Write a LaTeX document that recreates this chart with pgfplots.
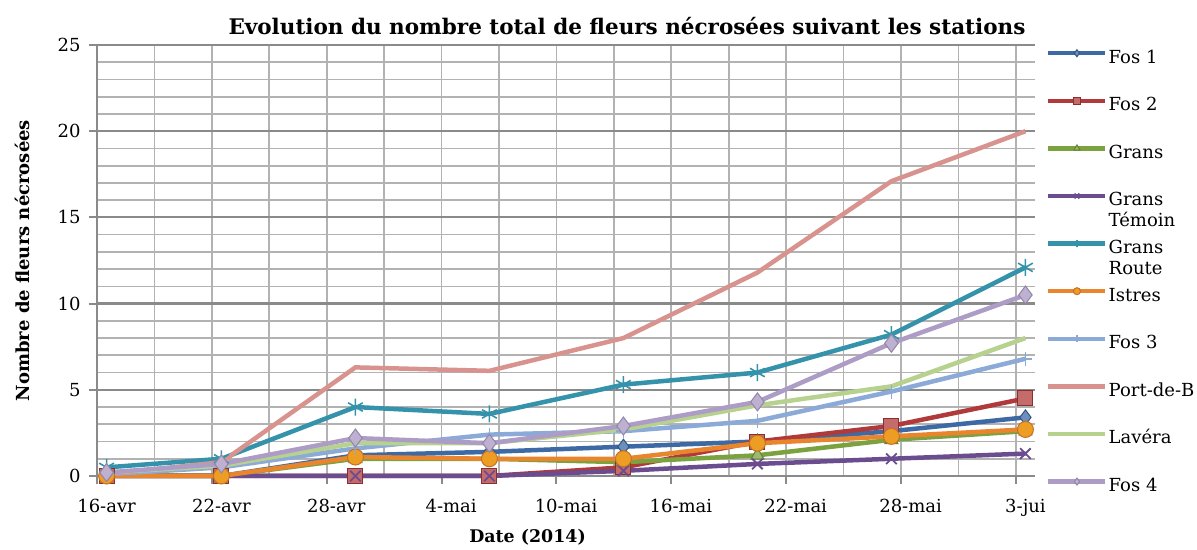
\documentclass[border=0pt]{standalone}
\usepackage{pgfplots}
\pgfplotsset{compat=1.18}
\usepackage{fontspec}
\setmainfont{DejaVu Serif}

\definecolor{cFosA}{HTML}{3D6AA5}
\definecolor{cFosB}{HTML}{B0393A}
\definecolor{cGrans}{HTML}{7BA23F}
\definecolor{cGransT}{HTML}{6A4C8F}
\definecolor{cGransR}{HTML}{3592AB}
\definecolor{cIstres}{HTML}{E8852D}
\definecolor{cFosC}{HTML}{8CAAD8}
\definecolor{cPort}{HTML}{D8938F}
\definecolor{cLavera}{HTML}{B7D28E}
\definecolor{cFosD}{HTML}{AC9CC6}
\definecolor{gridc}{HTML}{B2B2B2}
\definecolor{gridm}{HTML}{8A8A8A}

\begin{document}
\begin{tikzpicture}
\begin{axis}[
    scale only axis, width=938pt, height=431pt,
    xmin=0, xmax=49, ymin=0, ymax=25,
    clip=false,
    axis lines=left, axis line style={-, draw=gridm, line width=2pt},
    xtick={0,6,...,48},
    xticklabels={16-avr,22-avr,28-avr,4-mai,10-mai,16-mai,22-mai,28-mai,3-jui},
    minor x tick num=1,
    ytick={0,5,...,25}, minor y tick num=4,
    grid=both,
    grid style={draw=gridc, line width=1.7pt},
    extra y ticks={5,10,15,20,25}, extra y tick labels={},
    extra y tick style={major grid style={draw=gridm, line width=2.2pt}},
    tick align=outside, major tick length=8pt, minor tick length=0pt,
    tick style={draw=gridm, line width=2pt},
    /pgf/number format/assume math mode=true,
    xticklabel style={font=\fontsize{18}{20}\selectfont, xshift=9.6pt, yshift=-12pt},
    yticklabel style={font=\fontsize{18}{20}\selectfont, xshift=-5pt},
    title={Evolution du nombre total de fleurs nécrosées suivant les stations},
    title style={font=\fontsize{21.5}{24}\selectfont\bfseries,
        at={(axis description cs:0.565,1)}, anchor=base, yshift=4pt},
    xlabel={Date (2014)},
    xlabel style={font=\fontsize{17.4}{20}\selectfont\bfseries,
        at={(axis description cs:0.459,0)}, anchor=base, yshift=-67pt},
    ylabel={Nombre de fleurs nécrosées},
    ylabel style={font=\fontsize{18}{21}\selectfont\bfseries,
        at={(axis description cs:-0.08,0.5)}, anchor=center},
    legend style={at={(1,1)}, anchor=north west, xshift=11pt, yshift=-4pt,
        draw=none, fill=none, inner sep=0pt, row sep=31.6pt, column sep=1pt,
        font=\fontsize{18}{21}\selectfont,
        nodes={inner sep=0pt, text height=14pt, text depth=2pt}},
    legend cell align=left,
    legend image code/.code={
        \draw[mark repeat=2, mark phase=2, #1, mark size=3.5pt, yshift=4pt]
            plot coordinates {(0pt,0pt) (28.5pt,0pt) (57pt,0pt)};},
    every axis plot/.append style={line width=4.5pt},
]
% Fos 1
\addplot[cFosA, mark=diamond*, mark size=7.5pt,
    mark options={fill=cFosA!75!white, draw=cFosA!80!black, line width=1pt}] coordinates {
    (0.5,0)(6.5,0)(13.5,1.2)(20.5,1.4)(27.5,1.7)(34.5,2.0)(41.5,2.6)(48.5,3.4)};
\addlegendentry{Fos 1}
% Fos 2
\addplot[cFosB, mark=square*, mark size=7.5pt,
    mark options={fill=cFosB!75!white, draw=cFosB!80!black, line width=1pt}] coordinates {
    (0.5,0)(6.5,0)(13.5,0)(20.5,0)(27.5,0.5)(34.5,2.0)(41.5,2.9)(48.5,4.5)};
\addlegendentry{Fos 2}
% Grans
\addplot[cGrans, mark=triangle*, mark size=7.5pt,
    mark options={fill=cGrans!75!white, draw=cGrans!80!black, line width=1pt}] coordinates {
    (0.5,0)(6.5,0)(13.5,1.0)(20.5,1.0)(27.5,0.8)(34.5,1.2)(41.5,2.1)(48.5,2.6)};
\addlegendentry{Grans}
% Grans Temoin
\addplot[cGransT, mark=x, mark size=7.5pt,
    mark options={line width=1.8pt}] coordinates {
    (0.5,0)(6.5,0)(13.5,0)(20.5,0)(27.5,0.3)(34.5,0.7)(41.5,1.0)(48.5,1.3)};
\addlegendentry{\raisebox{0pt}[\height][0pt]{\begin{tabular}[t]{@{}l@{}}Grans\\Témoin\end{tabular}}}
% Grans Route
\addplot[cGransR, mark=asterisk, mark size=8.5pt,
    mark options={line width=1.6pt}] coordinates {
    (0.5,0.5)(6.5,1.0)(13.5,4.0)(20.5,3.6)(27.5,5.3)(34.5,6.0)(41.5,8.2)(48.5,12.1)};
\addlegendentry{\raisebox{0pt}[\height][0pt]{\begin{tabular}[t]{@{}l@{}}Grans\\Route\end{tabular}}}
% Istres
\addplot[cIstres, mark=*, mark size=8pt,
    mark options={fill=cIstres!80!yellow, draw=cIstres!85!black, line width=1pt}] coordinates {
    (0.5,0)(6.5,0)(13.5,1.1)(20.5,1.0)(27.5,1.0)(34.5,1.9)(41.5,2.3)(48.5,2.7)};
\addlegendentry{Istres}
% Fos 3
\addplot[cFosC, mark=+, mark size=7pt,
    mark options={line width=1.6pt}] coordinates {
    (0.5,0.1)(6.5,0.5)(13.5,1.6)(20.5,2.4)(27.5,2.6)(34.5,3.2)(41.5,4.9)(48.5,6.8)};
\addlegendentry{Fos 3}
% Port-de-B
\addplot[cPort, mark=none] coordinates {
    (0.5,0.1)(6.5,0.8)(13.5,6.3)(20.5,6.1)(27.5,8.0)(34.5,11.8)(41.5,17.1)(48.5,20.0)};
\addlegendentry{Port-de-B}
% Lavera
\addplot[cLavera, mark=none] coordinates {
    (0.5,0.2)(6.5,0.6)(13.5,1.9)(20.5,1.9)(27.5,2.7)(34.5,4.1)(41.5,5.2)(48.5,8.0)};
\addlegendentry{Lavéra}
% Fos 4
\addplot[cFosD, mark=diamond*, mark size=9pt,
    mark options={fill=cFosD!80!white, draw=cFosD!85!black, line width=1pt}] coordinates {
    (0.5,0.2)(6.5,0.7)(13.5,2.2)(20.5,1.9)(27.5,2.9)(34.5,4.3)(41.5,7.7)(48.5,10.5)};
\addlegendentry{Fos 4}
\end{axis}
\useasboundingbox (-97pt,-71pt) rectangle (1100pt,476pt);
\end{tikzpicture}
\end{document}
